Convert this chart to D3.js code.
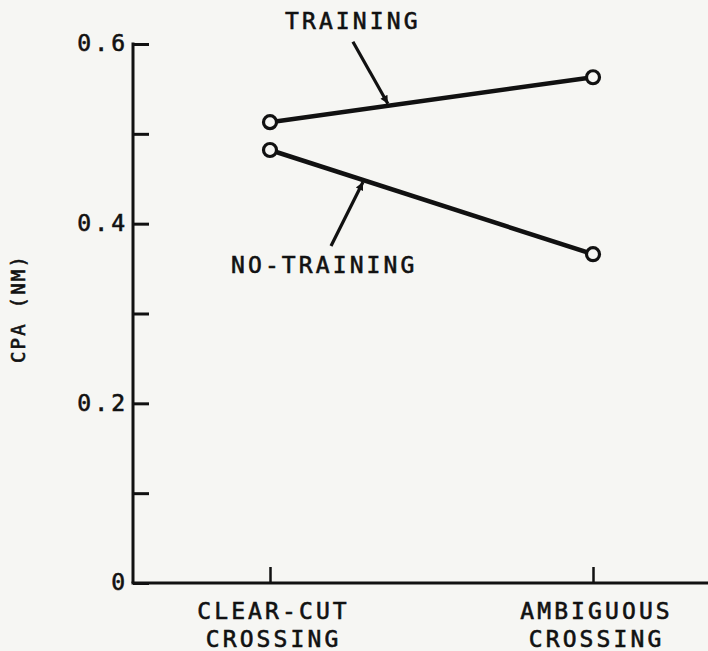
<!DOCTYPE html>
<html>
<head>
<meta charset="utf-8">
<script src="https://cdn.jsdelivr.net/npm/d3@7"></script>
<style>
  html, body { margin: 0; padding: 0; background: #f6f6f3; }
  svg { display: block; }
  text { font-family: "DejaVu Sans Mono", monospace; fill: #111; stroke: #111; stroke-width: 0.6px; }
</style>
</head>
<body>
<svg id="chart" width="708" height="651"></svg>
<script>
// data
const categories = ["CLEAR-CUT|CROSSING", "AMBIGUOUS|CROSSING"];
const training = [0.513, 0.563];
const noTraining = [0.482, 0.366];
const yTicks = [0, 0.1, 0.2, 0.3, 0.4, 0.5, 0.6];
const yLabels = ["0", "", "0.2", "", "0.4", "", "0.6"];

const svg = d3.select("#chart");
const ink = "#111";
const fs = 23, ls = 3.1;

const x = d3.scalePoint().domain(categories).range([270, 593]);
const y = d3.scaleLinear().domain([0, 0.6]).range([583, 44]);
const axisX0 = 133;

// y axis, ticks pointing inward
const yAxis = svg.append("g")
  .attr("transform", `translate(${axisX0},0)`)
  .call(d3.axisLeft(y).tickValues(yTicks).tickSize(-16).tickSizeOuter(0)
    .tickPadding(8).tickFormat((d, i) => yLabels[i]));
yAxis.select(".domain").attr("stroke", ink).attr("stroke-width", 3)
  .attr("d", `M0,${y(0)}V${y(0.6) - 1.5}`);
yAxis.selectAll(".tick line").attr("stroke", ink).attr("stroke-width", 3);
yAxis.selectAll(".tick text")
  .style("font-family", "DejaVu Sans Mono").style("font-size", fs + "px")
  .style("letter-spacing", ls + "px").attr("dx", ls).attr("dy", "0.3em").attr("fill", ink);

// x axis
const xAxis = svg.append("g")
  .attr("transform", `translate(0,${y(0)})`)
  .call(d3.axisBottom(x).tickSize(-16).tickSizeOuter(0).tickFormat(""));
xAxis.select(".domain").attr("stroke", ink).attr("stroke-width", 3)
  .attr("d", `M${axisX0 - 1.5},0H708`);
xAxis.selectAll(".tick line").attr("stroke", ink).attr("stroke-width", 2.5);

// category labels on two lines
categories.forEach(c => {
  const t = svg.append("text")
    .attr("text-anchor", "middle")
    .style("font-size", fs + "px").style("letter-spacing", ls + "px");
  c.split("|").forEach((part, i) => {
    t.append("tspan").attr("x", x(c) + 2 + ls / 2).attr("y", 619 + i * 28).text(part);
  });
});

// y axis title
svg.append("text")
  .attr("transform", "translate(25,310) rotate(-90)")
  .attr("text-anchor", "middle")
  .attr("dx", 1.5)
  .style("font-size", "19px").style("letter-spacing", "2.2px")
  .text("CPA (NM)");

// series
const series = [training, noTraining];
const line = d3.line().x((d, i) => x(categories[i])).y(d => y(d));
series.forEach(s => {
  svg.append("path").datum(s).attr("d", line)
    .attr("fill", "none").attr("stroke", ink).attr("stroke-width", 4.5);
  svg.selectAll(null).data(s).join("circle")
    .attr("cx", (d, i) => x(categories[i])).attr("cy", d => y(d))
    .attr("r", 6.5).attr("fill", "#f6f6f3").attr("stroke", ink).attr("stroke-width", 3.2);
});

// annotation arrows
const defs = svg.append("defs");
defs.append("marker").attr("id", "head").attr("viewBox", "0 0 10 10")
  .attr("refX", 10).attr("refY", 5).attr("markerWidth", 20).attr("markerHeight", 8)
  .attr("markerUnits", "userSpaceOnUse").attr("orient", "auto")
  .append("path").attr("d", "M0,0L10,5L0,10Z").attr("fill", ink);

function pointOn(s, f) {
  const px = x(categories[0]) + f * (x(categories[1]) - x(categories[0]));
  const py = y(s[0] + f * (s[1] - s[0]));
  return [px, py];
}
const notes = [
  {label: "TRAINING", s: training, f: 0.365, off: -2, tail: [-35, -62], tx: 285, ty: 29},
  {label: "NO-TRAINING", s: noTraining, f: 0.288, off: 2, tail: [-32, 64], tx: 231, ty: 273}
];
notes.forEach(n => {
  const [px, py] = pointOn(n.s, n.f);
  const tip = [px, py + n.off];
  svg.append("line")
    .attr("x1", tip[0] + n.tail[0]).attr("y1", tip[1] + n.tail[1])
    .attr("x2", tip[0]).attr("y2", tip[1])
    .attr("stroke", ink).attr("stroke-width", 3.2).attr("marker-end", "url(#head)");
  svg.append("text").attr("x", n.tx).attr("y", n.ty)
    .style("font-size", fs + "px").style("letter-spacing", ls + "px")
    .text(n.label);
});
</script>
</body>
</html>
